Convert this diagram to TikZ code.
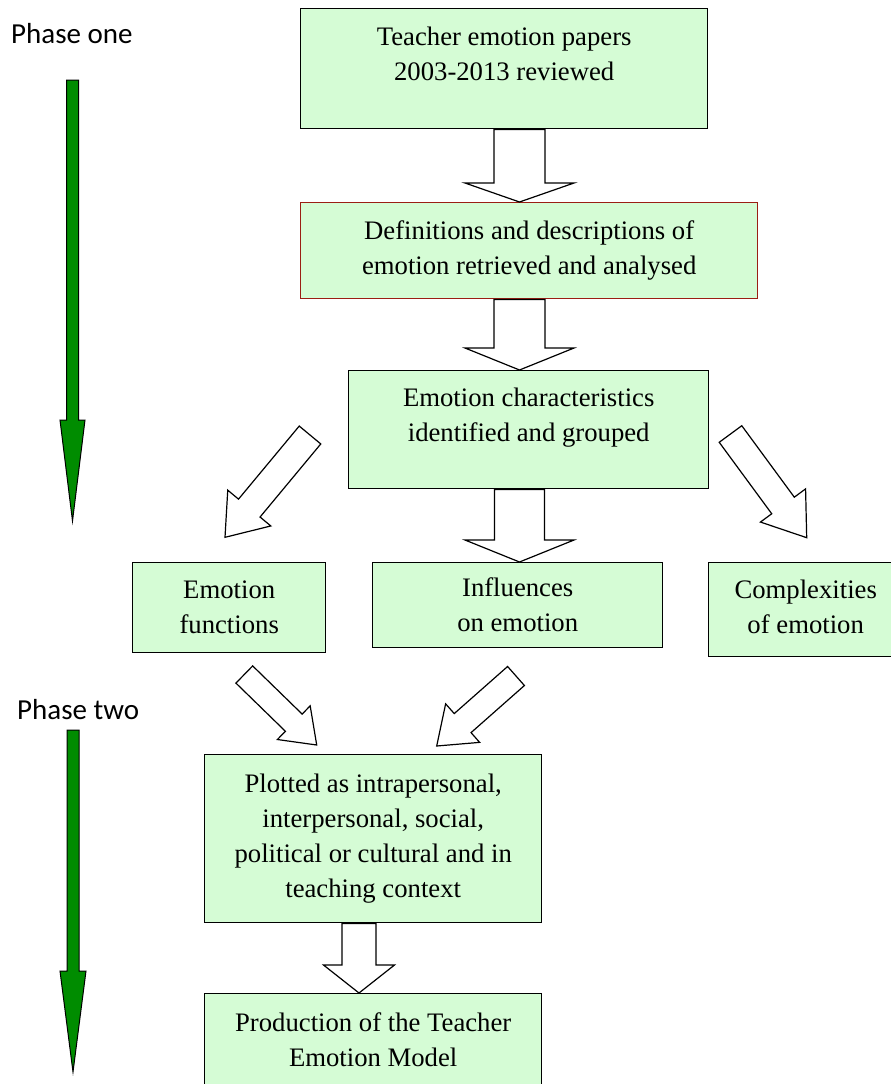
\documentclass[tikz,border=0pt]{standalone}
\usepackage{fontspec}
\setmainfont{Liberation Serif}
\newfontfamily\phasefont{Carlito}
\usetikzlibrary{calc}
\definecolor{boxfill}{RGB}{213,252,213}
\definecolor{boxred}{RGB}{155,30,20}
\definecolor{phasegreen}{RGB}{0,140,0}
\tikzset{
  box/.style={draw=black, fill=boxfill, line width=1.4pt, anchor=north west, inner sep=0pt,
    align=center, font=\fontsize{26.7pt}{35pt}\selectfont},
  blockarrow/.style={draw=black, fill=white, line width=1.2pt, line join=miter},
  phasearrow/.style={draw=black, fill=phasegreen, line width=1pt, line join=miter},
  phaselabel/.style={anchor=base west, inner sep=0pt, font=\phasefont\fontsize{29pt}{34pt}\selectfont},
}
% #1 tail, #2 tip, #3 shaft half width, #4 head half width, #5 head length, #6 style
\newcommand\blockarr[6]{%
  \coordinate (hb) at ($(#2)!#5pt!(#1)$);
  \path[#6] ($(#1)!#3pt!90:(#2)$) -- ($(hb)!#3pt!90:(#2)$) -- ($(hb)!#4pt!90:(#2)$) -- (#2)
    -- ($(hb)!#4pt!-90:(#2)$) -- ($(hb)!#3pt!-90:(#2)$) -- ($(#1)!#3pt!-90:(#2)$) -- cycle;
}
\begin{document}
\begin{tikzpicture}[x=1pt, y=-1pt]
\useasboundingbox (0,0) rectangle (891,1084);
\clip (0,0) rectangle (891,1084);

% phase labels and arrows
\node[phaselabel] (ph1) at (11,43) {Phase one};
\node[phaselabel] (ph2) at (17,719) {Phase two};
\coordinate (g1s) at (72.5,80);
\coordinate (g1e) at (72.5,521);
\coordinate (g2s) at (73,730);
\coordinate (g2e) at (73,1072);
\blockarr{g1s}{g1e}{6}{12.5}{101}{phasearrow}
\blockarr{g2s}{g2e}{6}{13}{101}{phasearrow}

% boxes
\node[box, minimum width=407pt, minimum height=120pt, text depth=30pt] (b1) at (300,8)
  {Teacher emotion papers\\2003-2013 reviewed};
\node[box, draw=boxred, minimum width=457pt, minimum height=96pt] (b2) at (300,202)
  {Definitions and descriptions of\\emotion retrieved and analysed};
\node[box, minimum width=360pt, minimum height=118pt, text depth=30pt] (b3) at (348,370)
  {Emotion characteristics\\identified and grouped};
\node[box, minimum width=193pt, minimum height=90pt] (fn) at (132,562)
  {Emotion\\functions};
\node[box, minimum width=290pt, minimum height=85pt, text depth=2pt] (inf) at (372,562)
  {Influences\\on emotion};
\node[box, minimum width=194pt, minimum height=94pt, text depth=6pt] (cx) at (708,562)
  {Complexities\\of emotion};
\node[box, minimum width=337pt, minimum height=168pt] (pl) at (204,754)
  {Plotted as intrapersonal,\\interpersonal, social,\\political or cultural and in\\teaching context};
\node[box, minimum width=337pt, minimum height=93pt] (pr) at (204,993)
  {Production of the Teacher\\Emotion Model};

% vertical block arrows
\coordinate (cA) at (519.5,0);
\coordinate (cB) at (359,0);
\blockarr{b1.south -| cA}{b2.north -| cA}{25.5}{54.5}{19}{blockarrow}
\blockarr{b2.south -| cA}{b3.north -| cA}{25.5}{54.5}{22}{blockarrow}
\blockarr{b3.south -| cA}{inf.north -| cA}{25}{54.5}{22}{blockarrow}
\blockarr{pl.south -| cB}{pr.north -| cB}{17}{35.5}{28}{blockarrow}

% diagonal block arrows
\coordinate (d1s) at (310,435);
\coordinate (d1e) at (225,537.3);
\coordinate (d2s) at (730.5,434);
\coordinate (d2e) at (806.7,537.7);
\coordinate (d3s) at (244.3,674.5);
\coordinate (d3e) at (316.7,745);
\coordinate (d4s) at (516,676);
\coordinate (d4e) at (436.7,746);
\blockarr{d1s}{d1e}{14}{28}{38}{blockarrow}
\blockarr{d2s}{d2e}{14}{28}{40}{blockarrow}
\blockarr{d3s}{d3e}{12}{23.5}{32}{blockarrow}
\blockarr{d4s}{d4e}{12.7}{25.7}{34.6}{blockarrow}
\end{tikzpicture}
\end{document}
